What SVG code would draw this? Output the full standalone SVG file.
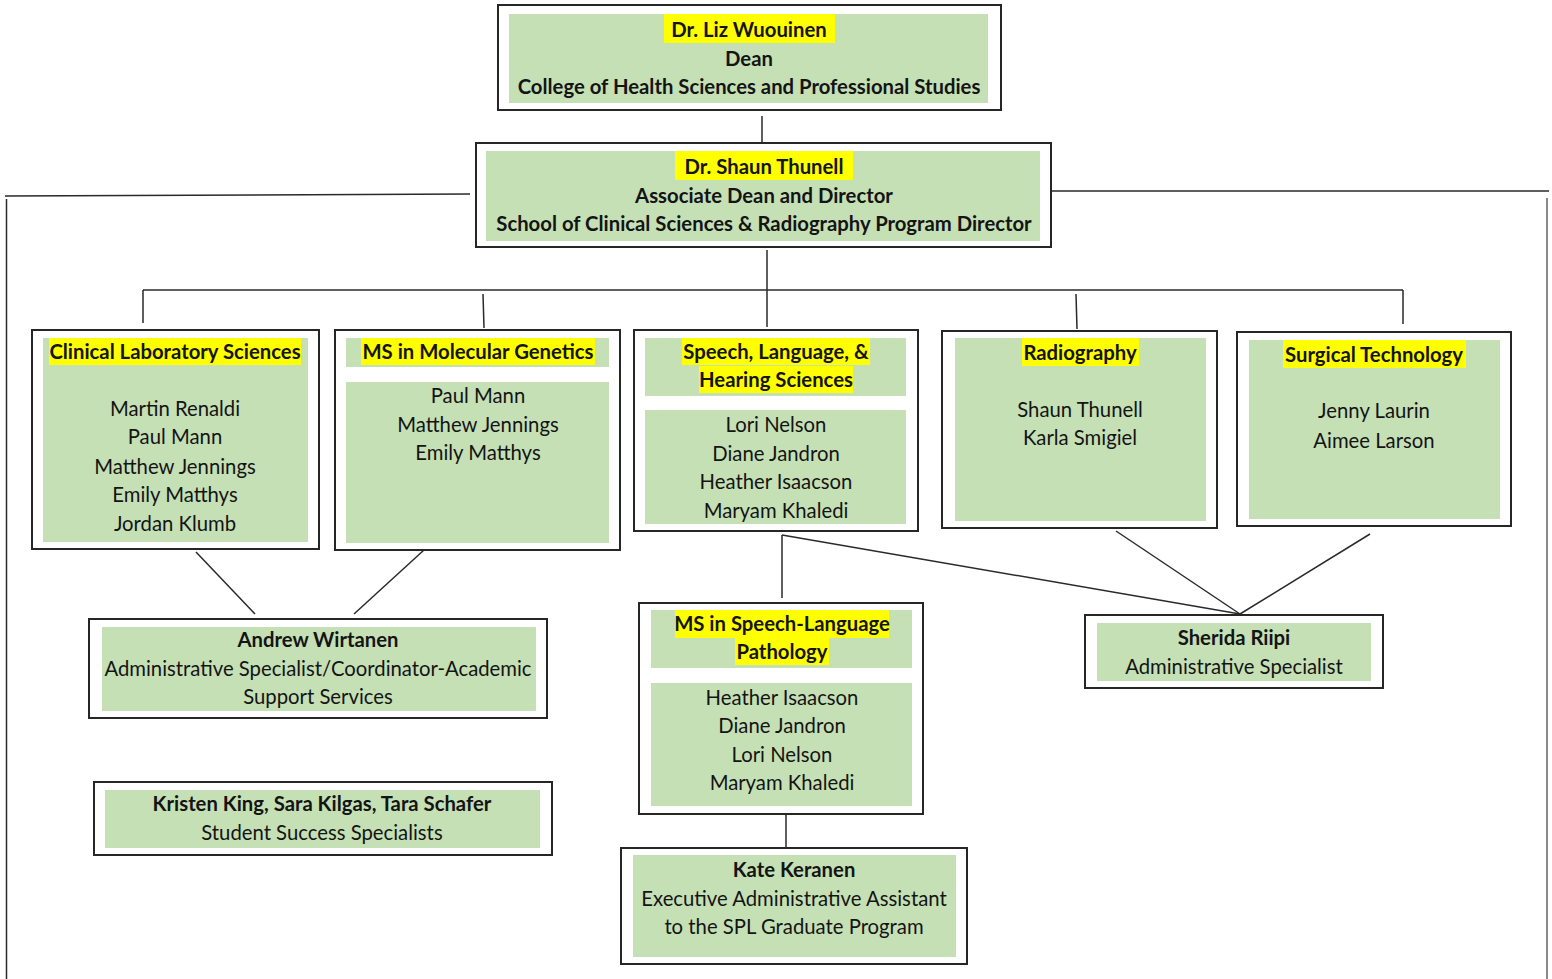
<svg xmlns="http://www.w3.org/2000/svg" width="1552" height="979" viewBox="0 0 1552 979">
<style>
.bg{fill:#ffffff}
.outer{fill:#ffffff;stroke:#262626;stroke-width:2}
.g{fill:#c5e0b4}
.hl{fill:#ffff00}
.t{font-family:Lato,"Open Sans","Liberation Sans",sans-serif;font-size:20.3px;text-anchor:middle;fill:#141414}
.b{font-weight:bold}
.c{stroke:#2a2a2a;stroke-width:1.5;fill:none}
.cl{stroke:#8a8a8a;stroke-width:2;fill:none}
</style>
<rect class="bg" x="0" y="0" width="1552" height="979"/>
<g id="connectors">
  <line class="c" x1="762" y1="116" x2="762" y2="143"/>
  <line class="c" x1="470" y1="194" x2="5" y2="196"/>
  <line class="c" x1="6.5" y1="199" x2="6.5" y2="979"/>
  <line class="c" x1="1051" y1="191" x2="1549" y2="191"/>
  <line class="cl" x1="1547" y1="198" x2="1547" y2="979"/>
  <line class="c" x1="767" y1="250" x2="767" y2="290"/>
  <line class="c" x1="143" y1="290" x2="1403" y2="290"/>
  <line class="c" x1="143" y1="290" x2="143" y2="323"/>
  <line class="c" x1="483" y1="294" x2="484" y2="328"/>
  <line class="c" x1="767" y1="290" x2="767" y2="327"/>
  <line class="c" x1="1076" y1="294" x2="1077" y2="329"/>
  <line class="c" x1="1403" y1="290" x2="1403" y2="324"/>
  <line class="c" x1="196" y1="552" x2="255" y2="614"/>
  <line class="c" x1="424" y1="550" x2="354" y2="614"/>
  <line class="c" x1="782" y1="535" x2="782" y2="598"/>
  <line class="c" x1="782" y1="535" x2="1240" y2="614"/>
  <line class="c" x1="1116" y1="531" x2="1240" y2="614"/>
  <line class="c" x1="1370" y1="534" x2="1240" y2="614"/>
  <line class="c" x1="786" y1="814" x2="786" y2="848"/>
</g>
<g id="dean">
  <rect class="outer" x="498" y="5" width="503" height="105"/>
  <rect class="g" x="509" y="14" width="479" height="89"/>
  <rect class="hl" x="664" y="14" width="171" height="29"/>
  <text class="t b" x="749" y="37">Dr. Liz Wuouinen</text>
  <text class="t b" x="749" y="66">Dean</text>
  <text class="t b" x="749" y="94">College of Health Sciences and Professional Studies</text>
</g>
<g id="associate-dean">
  <rect class="outer" x="476" y="143" width="575" height="104"/>
  <rect class="g" x="486" y="151" width="554" height="90"/>
  <rect class="hl" x="675" y="151" width="178" height="29"/>
  <text class="t b" x="764" y="174">Dr. Shaun Thunell</text>
  <text class="t b" x="764" y="203">Associate Dean and Director</text>
  <text class="t b" x="764" y="231">School of Clinical Sciences &amp; Radiography Program Director</text>
</g>
<g id="cls">
  <rect class="outer" x="32" y="330" width="287" height="219"/>
  <rect class="g" x="43" y="338" width="265" height="204"/>
  <rect class="hl" x="49" y="338" width="252" height="27"/>
  <text class="t b" x="175" y="359">Clinical Laboratory Sciences</text>
  <text class="t" x="175" y="416">Martin Renaldi</text>
  <text class="t" x="175" y="444">Paul Mann</text>
  <text class="t" x="175" y="474">Matthew Jennings</text>
  <text class="t" x="175" y="502">Emily Matthys</text>
  <text class="t" x="175" y="531">Jordan Klumb</text>
</g>
<g id="ms-molecular-genetics">
  <rect class="outer" x="335" y="330" width="285" height="220"/>
  <rect class="g" x="346" y="338" width="263" height="29"/>
  <rect class="g" x="346" y="382" width="263" height="161"/>
  <rect class="hl" x="361" y="338" width="234" height="27"/>
  <text class="t b" x="478" y="359">MS in Molecular Genetics</text>
  <text class="t" x="478" y="403">Paul Mann</text>
  <text class="t" x="478" y="432">Matthew Jennings</text>
  <text class="t" x="478" y="460">Emily Matthys</text>
</g>
<g id="slhs">
  <rect class="outer" x="634" y="330" width="284" height="201"/>
  <rect class="g" x="645" y="338" width="261" height="58"/>
  <rect class="g" x="645" y="410" width="261" height="114"/>
  <rect class="hl" x="682" y="338" width="188" height="27"/>
  <rect class="hl" x="699" y="366" width="154" height="27"/>
  <text class="t b" x="776" y="359">Speech, Language, &amp;</text>
  <text class="t b" x="776" y="387">Hearing Sciences</text>
  <text class="t" x="776" y="432">Lori Nelson</text>
  <text class="t" x="776" y="461">Diane Jandron</text>
  <text class="t" x="776" y="489">Heather Isaacson</text>
  <text class="t" x="776" y="518">Maryam Khaledi</text>
</g>
<g id="radiography">
  <rect class="outer" x="942" y="331" width="275" height="197"/>
  <rect class="g" x="955" y="338" width="251" height="183"/>
  <rect class="hl" x="1022" y="338" width="117" height="28"/>
  <text class="t b" x="1080" y="360">Radiography</text>
  <text class="t" x="1080" y="417">Shaun Thunell</text>
  <text class="t" x="1080" y="445">Karla Smigiel</text>
</g>
<g id="surgical-technology">
  <rect class="outer" x="1237" y="332" width="274" height="194"/>
  <rect class="g" x="1249" y="340" width="251" height="179"/>
  <rect class="hl" x="1283" y="340" width="183" height="28"/>
  <text class="t b" x="1374" y="362">Surgical Technology</text>
  <text class="t" x="1374" y="418">Jenny Laurin</text>
  <text class="t" x="1374" y="448">Aimee Larson</text>
</g>
<g id="andrew-wirtanen">
  <rect class="outer" x="89" y="619" width="458" height="99"/>
  <rect class="g" x="102" y="627" width="434" height="84"/>
  <text class="t b" x="318" y="647">Andrew Wirtanen</text>
  <text class="t" x="318" y="676">Administrative Specialist/Coordinator-Academic</text>
  <text class="t" x="318" y="704">Support Services</text>
</g>
<g id="student-success">
  <rect class="outer" x="94" y="782" width="458" height="73"/>
  <rect class="g" x="105" y="790" width="435" height="58"/>
  <text class="t b" x="322" y="811">Kristen King, Sara Kilgas, Tara Schafer</text>
  <text class="t" x="322" y="840">Student Success Specialists</text>
</g>
<g id="ms-slp">
  <rect class="outer" x="639" y="603" width="284" height="211"/>
  <rect class="g" x="651" y="610" width="261" height="58"/>
  <rect class="g" x="651" y="683" width="261" height="123"/>
  <rect class="hl" x="675" y="610" width="214" height="28"/>
  <rect class="hl" x="735" y="638" width="94" height="27"/>
  <text class="t b" x="782" y="631">MS in Speech-Language</text>
  <text class="t b" x="782" y="659">Pathology</text>
  <text class="t" x="782" y="705">Heather Isaacson</text>
  <text class="t" x="782" y="733">Diane Jandron</text>
  <text class="t" x="782" y="762">Lori Nelson</text>
  <text class="t" x="782" y="790">Maryam Khaledi</text>
</g>
<g id="sherida-riipi">
  <rect class="outer" x="1085" y="615" width="298" height="73"/>
  <rect class="g" x="1097" y="623" width="274" height="58"/>
  <text class="t b" x="1234" y="645">Sherida Riipi</text>
  <text class="t" x="1234" y="674">Administrative Specialist</text>
</g>
<g id="kate-keranen">
  <rect class="outer" x="621" y="848" width="346" height="116"/>
  <rect class="g" x="633" y="855" width="323" height="102"/>
  <text class="t b" x="794" y="877">Kate Keranen</text>
  <text class="t" x="794" y="906">Executive Administrative Assistant</text>
  <text class="t" x="794" y="934">to the SPL Graduate Program</text>
</g>
</svg>
